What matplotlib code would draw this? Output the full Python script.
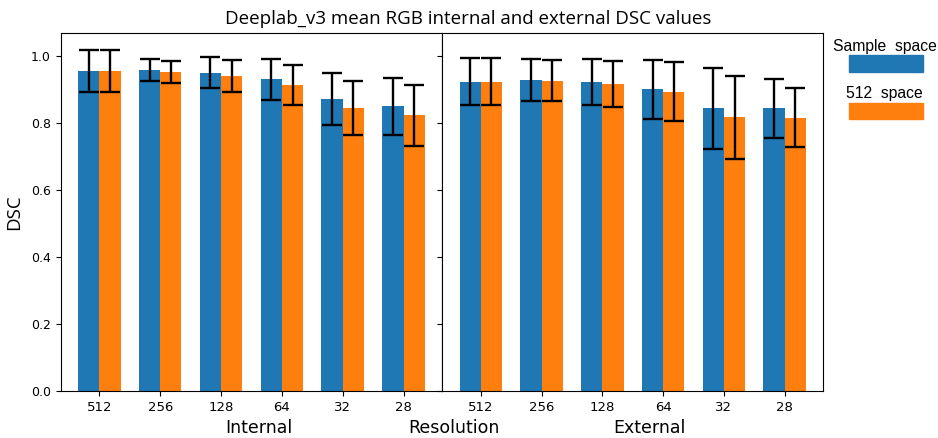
import matplotlib
matplotlib.use("Agg")
import matplotlib.pyplot as plt
import numpy as np
from matplotlib.patches import Rectangle

resolutions = ["512", "256", "128", "64", "32", "28"]

# internal set
int_sample = [0.954, 0.957, 0.950, 0.930, 0.872, 0.850]
int_sample_err = [0.062, 0.033, 0.047, 0.061, 0.077, 0.085]
int_512 = [0.954, 0.952, 0.940, 0.913, 0.845, 0.822]
int_512_err = [0.062, 0.033, 0.047, 0.059, 0.080, 0.090]

# external set
ext_sample = [0.923, 0.928, 0.922, 0.900, 0.843, 0.843]
ext_sample_err = [0.070, 0.062, 0.068, 0.087, 0.120, 0.087]
ext_512 = [0.923, 0.926, 0.916, 0.893, 0.816, 0.815]
ext_512_err = [0.070, 0.062, 0.068, 0.087, 0.123, 0.088]

blue = '#1f77b4'
orange = '#ff7f0e'
w = 0.35

fig = plt.figure(figsize=(9.38, 4.38), dpi=100)
ax1 = fig.add_axes([0.0647, 0.1062, 0.4068, 0.8178])
ax2 = fig.add_axes([0.4715, 0.1062, 0.4062, 0.8178], sharey=ax1)

x = np.arange(len(resolutions))
errkw = dict(ecolor='black', capsize=7, error_kw=dict(elinewidth=1.7, capthick=1.7))

for ax, s, se, o, oe in [(ax1, int_sample, int_sample_err, int_512, int_512_err),
                         (ax2, ext_sample, ext_sample_err, ext_512, ext_512_err)]:
    ax.bar(x - w/2, s, w, yerr=se, color=blue, **errkw)
    ax.bar(x + w/2, o, w, yerr=oe, color=orange, **errkw)
    ax.set_xticks(x)
    ax.set_xticklabels(resolutions, fontsize=9.5)
    ax.tick_params(axis='y', labelsize=9)

ax2.tick_params(axis='y', labelleft=False)
ax1.set_ylabel('DSC', fontsize=13.5, family='Open Sans', labelpad=6)

fig.text(0.499, 0.9445, 'Deeplab_v3 mean RGB internal and external DSC values',
         ha='center', va='baseline', fontsize=13.5, family='Open Sans')
fig.text(259/938, 0.0114, 'Internal', ha='center', va='baseline', fontsize=12.5)
fig.text(454/938, 0.0114, 'Resolution', ha='center', va='baseline', fontsize=12.5)
fig.text(649/938, 0.0114, 'External', ha='center', va='baseline', fontsize=12.5)

# legend, drawn by hand
fig.text(885/938, 1 - 51/438, 'Sample  space', ha='center', va='baseline',
         fontsize=11.3, family='Liberation Sans')
fig.patches.append(Rectangle((849/938, 1 - 72/438), 74/938, 17/438,
                             transform=fig.transFigure, color=blue, figure=fig))
fig.text(884/938, 1 - 98/438, '512  space', ha='center', va='baseline',
         fontsize=11.3, family='Liberation Sans')
fig.patches.append(Rectangle((849/938, 1 - 119/438), 74/938, 16/438,
                             transform=fig.transFigure, color=orange, figure=fig))

fig.savefig('out.png', dpi=100)
